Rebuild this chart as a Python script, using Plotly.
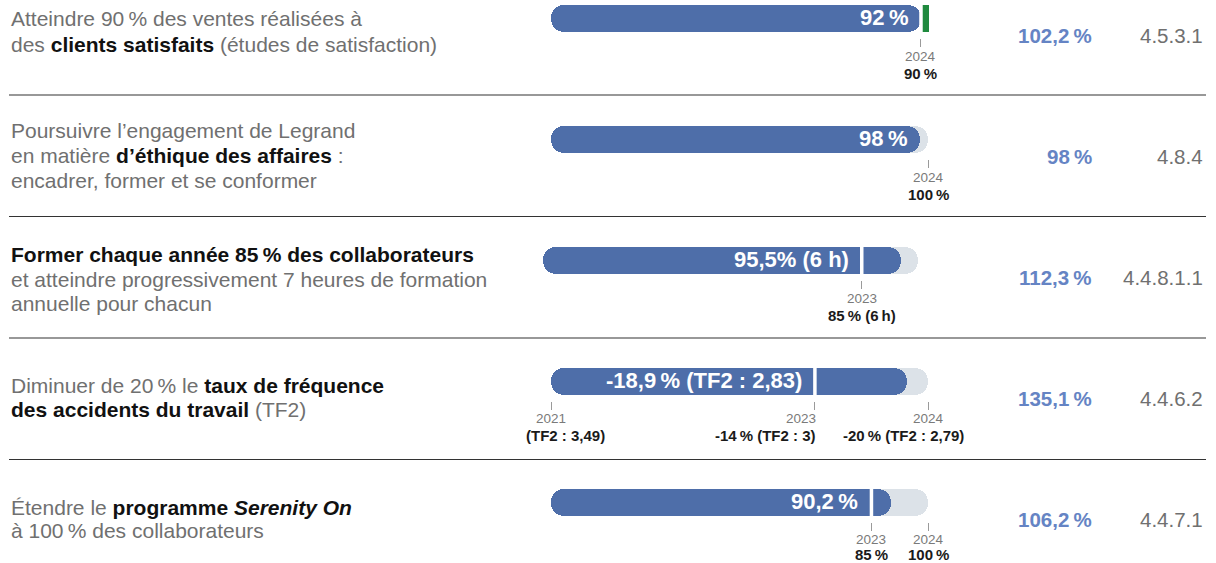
import plotly.graph_objects as go

W, H = 1216, 563
FONT = "Liberation Sans, Arial, Helvetica, sans-serif"
TS = "\u2009"  # thin space before %

# ---------------- data ----------------
goal_lines = [
    ["Atteindre 90" + TS + "% des ventes réalisées à",
     "des <b>clients satisfaits</b> (études de satisfaction)"],
    ["Poursuivre l’engagement de Legrand",
     "en matière <b>d’éthique des affaires</b> :",
     "encadrer, former et se conformer"],
    ["<b>Former chaque année 85" + TS + "% des collaborateurs</b>",
     "et atteindre progressivement 7 heures de formation",
     "annuelle pour chacun"],
    ["Diminuer de 20" + TS + "% le <b>taux de fréquence</b>",
     "<b>des accidents du travail</b> (TF2)"],
    ["Étendre le <b>programme <i>Serenity On</i></b>",
     "à 100" + TS + "% des collaborateurs"],
]
achieved = [92, 98, 95.5, 18.9, 90.2]          # row 4: reduction in %
track_end = [90, 100, 100, 20, 100]
milestones = [[90], [], [85], [14], [85]]
bar_labels = ["92" + TS + "%", "98" + TS + "%", "95,5% (6 h)",
              "-18,9" + TS + "% (TF2 : 2,83)", "90,2" + TS + "%"]
tick_vals = [[90], [100], [85], [0, 14, 20], [85, 100]]
tick_years = [["2024"], ["2024"], ["2023"], ["2021", "2023", "2024"], ["2023", "2024"]]
tick_targets = [["90" + TS + "%"], ["100" + TS + "%"], ["85" + TS + "% (6" + TS + "h)"],
                ["(TF2 : 3,49)", "-14" + TS + "% (TF2 : 3)", "-20" + TS + "% (TF2 : 2,79)"],
                ["85" + TS + "%", "100" + TS + "%"]]
rates = ["102,2" + TS + "%", "98" + TS + "%", "112,3" + TS + "%", "135,1" + TS + "%", "106,2" + TS + "%"]
refs = ["4.5.3.1", "4.8.4", "4.4.8.1.1", "4.4.6.2", "4.4.7.1"]

# ---------------- layout / style ----------------
BLUE = "#4e6ea9"
TRACK = "#dce2e8"
GREEN = "#1f8a3e"
bar_left_px = [551, 551, 543, 551, 551]
bar_right_px = [929.2, 928, 918, 928, 928]
bar_center_px = [18.5 + 121 * i for i in range(5)]
text_first_px = [18.5, 130.5, 254.5, 385.5, 507]
text_step_px = [26.5, 25, 24.5, 24, 23.5]
year_off = [38, 38, 38, 37, 37]
target_off = [55, 55, 55, 54, 51.5]
BAR_H = 27
year_shift = [[0], [0], [0], [0, -14, 0], [0, 0]]
target_shift = [[0], [0], [0], [14, -49, -25], [0, 0]]
sep_px = [95, 216.5, 338, 459.5]


def px_x(p):
    return p / W


def px_y(p):
    return 1 - p / H


def blackbold(s):
    return s.replace("<b>", "<b><span style='color:#111111'>").replace("</b>", "</span></b>")


fig = go.Figure()
layout = dict(
    width=W, height=H, margin=dict(l=0, r=0, t=0, b=0),
    paper_bgcolor="white", plot_bgcolor="rgba(0,0,0,0)",
    showlegend=False, barmode="overlay", bargap=0,
    font=dict(family=FONT),
)
annotations = []
shapes = []

for i in range(5):
    n = i + 1
    xa = "x" if n == 1 else f"x{n}"
    ya = "y" if n == 1 else f"y{n}"
    xk = "xaxis" if n == 1 else f"xaxis{n}"
    yk = "yaxis" if n == 1 else f"yaxis{n}"
    val = achieved[i]
    end = track_end[i]
    amax = max(val, end)
    c = bar_center_px[i]

    # track (both halves rounded outward)
    half = end / 2
    for base, length in ((half, -half), (half, half)):
        fig.add_trace(go.Bar(x=[length], base=[base], y=[0], orientation="h", width=1,
                             marker=dict(color=TRACK, cornerradius=13, line=dict(width=0)),
                             xaxis=xa, yaxis=ya, hoverinfo="skip"))
    # achieved (blue, rounded left end)
    blue_end = min(val, end)
    fig.add_trace(go.Bar(x=[-blue_end], base=[blue_end], y=[0], orientation="h", width=1,
                         marker=dict(color=BLUE, cornerradius=13, line=dict(width=0)),
                         xaxis=xa, yaxis=ya, hoverinfo="skip"))
    # overshoot beyond target (green)
    if val > end:
        fig.add_trace(go.Bar(x=[val - end], base=[end], y=[0], orientation="h", width=1,
                             marker=dict(color=GREEN, line=dict(width=0)),
                             xaxis=xa, yaxis=ya, hoverinfo="skip"))
    # milestone dividers
    for m in milestones[i]:
        fig.add_trace(go.Scatter(x=[m, m], y=[-0.5, 0.5], mode="lines",
                                 line=dict(color="white", width=3.5),
                                 xaxis=xa, yaxis=ya, hoverinfo="skip"))

    layout[xk] = dict(domain=[px_x(bar_left_px[i]), px_x(bar_right_px[i])], range=[0, amax],
                      anchor="free", position=px_y(c + 19), showgrid=False, zeroline=False,
                      showline=False, ticks="outside", ticklen=8, tickwidth=1, tickcolor="#9a9a9a",
                      tickvals=tick_vals[i], showticklabels=False, fixedrange=True)
    layout[yk] = dict(domain=[px_y(c + BAR_H / 2), px_y(c - BAR_H / 2)], range=[-0.5, 0.5],
                      visible=False, fixedrange=True)

    # label inside bar
    label_at = min([val] + milestones[i])
    annotations.append(dict(x=label_at, y=0, xref=xa, yref=ya, xanchor="right", yanchor="middle",
                            xshift=-11, yshift=1, showarrow=False, text="<b>" + bar_labels[i] + "</b>",
                            font=dict(family=FONT, size=22, color="white")))
    # tick labels
    for k, tv in enumerate(tick_vals[i]):
        annotations.append(dict(x=tv, y=px_y(c + year_off[i]), xref=xa, yref="paper", xanchor="center",
                                yanchor="middle", xshift=year_shift[i][k], showarrow=False,
                                text=tick_years[i][k], font=dict(family=FONT, size=13.5, color="#7a7a7a")))
        annotations.append(dict(x=tv, y=px_y(c + target_off[i]), xref=xa, yref="paper", xanchor="center",
                                yanchor="middle", xshift=target_shift[i][k], showarrow=False,
                                text="<b>" + tick_targets[i][k] + "</b>",
                                font=dict(family=FONT, size=15, color="#1a1a1a")))
    # goal text
    for j, line in enumerate(goal_lines[i]):
        annotations.append(dict(x=px_x(9), y=px_y(text_first_px[i] + j * text_step_px[i]),
                                xref="paper", yref="paper", xanchor="left", yanchor="middle",
                                showarrow=False, text=blackbold(line), align="left",
                                font=dict(family=FONT, size=21, color="#707070")))
    # rate and reference
    annotations.append(dict(x=px_x(1094), y=px_y(c + 17), xref="paper", yref="paper",
                            xanchor="right", yanchor="middle", showarrow=False,
                            text="<b>" + rates[i] + "</b>",
                            font=dict(family=FONT, size=20.5, color="#6584c4")))
    annotations.append(dict(x=px_x(1205), y=px_y(c + 17), xref="paper", yref="paper",
                            xanchor="right", yanchor="middle", showarrow=False, text=refs[i],
                            font=dict(family=FONT, size=20.5, color="#707070")))

for s in sep_px:
    shapes.append(dict(type="line", xref="paper", yref="paper", x0=px_x(9), x1=px_x(1206),
                       y0=px_y(s), y1=px_y(s), line=dict(color="#333333", width=1.2)))

layout["annotations"] = annotations
layout["shapes"] = shapes
fig.update_layout(**layout)
fig.write_html("out.html", config={"displayModeBar": False},
               post_script="document.body.style.margin='0px';document.body.style.overflow='hidden';")
